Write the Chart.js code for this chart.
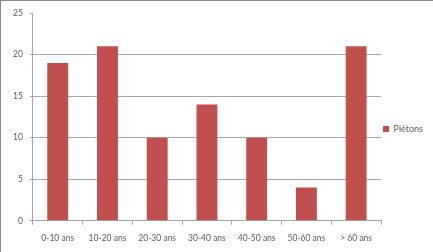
<!DOCTYPE html>
<html>
<head>
<meta charset="utf-8">
<script src="https://cdn.jsdelivr.net/npm/chart.js@4"></script>
<style>
  html, body { margin: 0; padding: 0; background: #fff; }
  #wrap {
    position: relative;
    width: 432px;
    height: 251px;
    border-left: 1px solid #8c8c8c;
    border-top: 1px solid #8c8c8c;
  }
</style>
</head>
<body>
<div id="wrap"><canvas id="chart" width="432" height="251"></canvas></div>
<script>
// données
const categories = ['0-10 ans', '10-20 ans', '20-30 ans', '30-40 ans', '40-50 ans', '50-60 ans', '> 60 ans'];
const pietons = [19, 21, 10, 14, 10, 4, 21];
const yTicks = [0, 5, 10, 15, 20, 25];

const textColor = '#595959';
const lineColor = '#a6a6a6';
const font = { family: 'Lato', size: 8.5 };

const ctx = document.getElementById('chart').getContext('2d');

new Chart(ctx, {
    type: 'bar',
    data: {
        labels: categories,
        datasets: [
            {
                label: 'Piétons',
                data: pietons,
                backgroundColor: '#c0504d',
                borderWidth: 0,
                barPercentage: 0.42,
                categoryPercentage: 1
            }
        ]
    },
    options: {
        responsive: false,
        animation: false,
        layout: { padding: { top: 6, left: 5, right: 0, bottom: 1 } },
        scales: {
            x: {
                grid: {
                    drawOnChartArea: false,
                    drawTicks: true,
                    tickLength: 4,
                    tickColor: lineColor
                },
                border: { color: lineColor },
                ticks: { color: textColor, font: font, padding: 8, maxRotation: 0 }
            },
            y: {
                min: 0,
                max: 25,
                afterBuildTicks: (axis) => { axis.ticks = yTicks.map(v => ({ value: v })); },
                grid: {
                    color: (c) => (c.tick && (c.tick.value === 25 || c.tick.value === 0)) ? 'rgba(0,0,0,0)' : lineColor,
                    tickColor: lineColor,
                    tickLength: 3
                },
                border: { color: lineColor },
                ticks: { color: textColor, font: font, padding: 7 }
            }
        },
        plugins: {
            legend: {
                position: 'right',
                labels: {
                    boxWidth: 6,
                    boxHeight: 6,
                    padding: 2,
                    color: textColor,
                    font: { family: 'Lato', size: 9 }
                }
            },
            tooltip: { enabled: false }
        }
    }
});
</script>
</body>
</html>
